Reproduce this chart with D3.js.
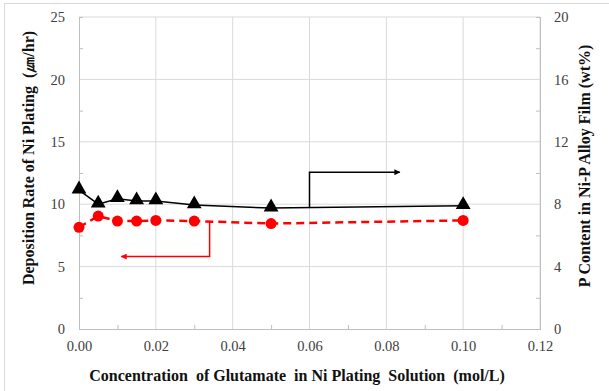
<!DOCTYPE html>
<html>
<head>
<meta charset="utf-8">
<script src="https://cdn.jsdelivr.net/npm/d3@7"></script>
<style>
  body { margin: 0; background: #fff; }
  .tick text { fill: #404040; font-size: 14.5px; }
  .axis-title { font-weight: bold; font-size: 16px; fill: #111; white-space: pre; }
</style>
</head>
<body>
<svg id="chart" width="609" height="391"></svg>
<script>
// glutamate concentration (mol/L)
var concentration = [0, 0.005, 0.01, 0.015, 0.02, 0.03, 0.05, 0.10];
// deposition rate of Ni plating, left axis
var depositionRate = [8.15, 9.05, 8.65, 8.65, 8.7, 8.65, 8.45, 8.7];
// P content in Ni-P film (wt%), right axis
var pContent = [8.9, 8.0, 8.35, 8.2, 8.2, 7.95, 7.75, 7.9];

var xTicks = [0, 0.02, 0.04, 0.06, 0.08, 0.10, 0.12];
var leftTicks = [0, 5, 10, 15, 20, 25];
var rightTicks = [0, 4, 8, 12, 16, 20];

// arrow annotations: [x, y] pairs in data units
var redArrow = [[0.034, 8.65], [0.034, 5.8], [0.011, 5.8]];   // left axis
var blackArrow = [[0.06, 7.8], [0.06, 10.05], [0.0835, 10.05]]; // right axis

var serif = '"Times New Roman", "Liberation Serif", Tinos, "Noto Serif", "DejaVu Serif", serif';

var svg = d3.select('#chart');
var margin = { left: 79, top: 17, right: 69, bottom: 62 };
var width = 609 - margin.left - margin.right;
var height = 391 - margin.top - margin.bottom;

// light frame round the whole figure
svg.append('rect')
  .attr('x', 4.5).attr('y', 3.5)
  .attr('width', 620).attr('height', 400)
  .attr('fill', 'none')
  .attr('stroke', '#d9d9d9');

var g = svg.append('g')
  .attr('transform', 'translate(' + margin.left + ',' + margin.top + ')');

var x = d3.scaleLinear().domain([0, 0.12]).range([0, width]);
var yLeft = d3.scaleLinear().domain([0, 25]).range([height, 0]);
var yRight = d3.scaleLinear().domain([0, 20]).range([height, 0]);

// gridlines
g.append('g').selectAll('line.hg')
  .data(leftTicks.slice(1))
  .enter().append('line')
  .attr('x1', 0).attr('x2', width)
  .attr('y1', function (d) { return yLeft(d); })
  .attr('y2', function (d) { return yLeft(d); })
  .attr('stroke', '#d9d9d9');
g.append('g').selectAll('line.vg')
  .data(xTicks.slice(1))
  .enter().append('line')
  .attr('x1', function (d) { return x(d); })
  .attr('x2', function (d) { return x(d); })
  .attr('y1', 0).attr('y2', height)
  .attr('stroke', '#d9d9d9');

function styleAxis(sel) {
  sel.attr('font-family', serif);
  sel.selectAll('.domain').attr('stroke', '#bfbfbf');
  sel.selectAll('.tick line').attr('stroke', '#bfbfbf');
}

// minor ticks
g.append('g')
  .attr('transform', 'translate(0,' + height + ')')
  .call(d3.axisBottom(x).tickValues(d3.range(0.01, 0.12, 0.02)).tickSize(-4).tickFormat(''))
  .call(styleAxis);
g.append('g')
  .call(d3.axisLeft(yLeft).tickValues(d3.range(2.5, 25, 5)).tickSize(-4).tickFormat(''))
  .call(styleAxis);
g.append('g')
  .attr('transform', 'translate(' + width + ',0)')
  .call(d3.axisRight(yRight).tickValues(d3.range(2, 20, 4)).tickSize(-4).tickFormat(''))
  .call(styleAxis);

// main axes
g.append('g')
  .attr('transform', 'translate(0,' + height + ')')
  .call(d3.axisBottom(x).tickValues(xTicks).tickSize(0).tickPadding(12).tickFormat(d3.format('.2f')))
  .call(styleAxis);
g.append('g')
  .call(d3.axisLeft(yLeft).tickValues(leftTicks).tickSize(0).tickPadding(14))
  .call(styleAxis);
g.append('g')
  .attr('transform', 'translate(' + width + ',0)')
  .call(d3.axisRight(yRight).tickValues(rightTicks).tickSize(0).tickPadding(14))
  .call(styleAxis);

// deposition rate series (red, dashed)
var redLine = d3.line()
  .x(function (d, i) { return x(concentration[i]); })
  .y(function (d) { return yLeft(d); });
g.append('path')
  .datum(depositionRate)
  .attr('d', redLine)
  .attr('fill', 'none')
  .attr('stroke', '#ff0000')
  .attr('stroke-width', 2.5)
  .attr('stroke-dasharray', '8,5');

// P content series (black, solid)
var blackLine = d3.line()
  .x(function (d, i) { return x(concentration[i]); })
  .y(function (d) { return yRight(d); });
g.append('path')
  .datum(pContent)
  .attr('d', blackLine)
  .attr('fill', 'none')
  .attr('stroke', '#000')
  .attr('stroke-width', 1.5);

// arrows
var defs = svg.append('defs');
function addMarker(id, color) {
  defs.append('marker')
    .attr('id', id)
    .attr('viewBox', '0 0 10 10')
    .attr('refX', 9).attr('refY', 5)
    .attr('markerWidth', 10).attr('markerHeight', 6)
    .attr('markerUnits', 'userSpaceOnUse')
    .attr('orient', 'auto')
    .append('path')
    .attr('d', 'M0,0 L10,5 L0,10 Z')
    .attr('fill', color);
}
addMarker('arrow-red', '#ff0000');
addMarker('arrow-black', '#000');

g.append('path')
  .attr('d', d3.line()
    .x(function (d) { return x(d[0]); })
    .y(function (d) { return yLeft(d[1]); })(redArrow))
  .attr('fill', 'none')
  .attr('stroke', '#ff0000')
  .attr('stroke-width', 1.5)
  .attr('marker-end', 'url(#arrow-red)');

g.append('path')
  .attr('d', d3.line()
    .x(function (d) { return x(d[0]); })
    .y(function (d) { return yRight(d[1]); })(blackArrow))
  .attr('fill', 'none')
  .attr('stroke', '#000')
  .attr('stroke-width', 1.5)
  .attr('marker-end', 'url(#arrow-black)');

// markers
g.append('g').selectAll('circle')
  .data(depositionRate)
  .enter().append('circle')
  .attr('cx', function (d, i) { return x(concentration[i]); })
  .attr('cy', function (d) { return yLeft(d); })
  .attr('r', 5.5)
  .attr('fill', '#ff0000');

var tri = d3.symbol().type(d3.symbolTriangle).size(95);
g.append('g').selectAll('path.tri')
  .data(pContent)
  .enter().append('path')
  .attr('d', tri)
  .attr('transform', function (d, i) {
    return 'translate(' + x(concentration[i]) + ',' + (yRight(d) - 1) + ')';
  })
  .attr('fill', '#000');

// axis titles
svg.append('text')
  .attr('class', 'axis-title')
  .attr('font-family', serif)
  .attr('x', 297)
  .attr('y', 381)
  .attr('text-anchor', 'middle')
  .text('Concentration  of Glutamate  in Ni Plating  Solution  (mol/L)');

svg.append('text')
  .attr('class', 'axis-title')
  .attr('font-family', serif)
  .attr('transform', 'translate(34,158) rotate(-90)')
  .attr('text-anchor', 'middle')
  .text('Deposition Rate of Ni Plating  (\u339B/hr)');

svg.append('text')
  .attr('class', 'axis-title')
  .attr('font-family', serif)
  .attr('transform', 'translate(590,166) rotate(-90)')
  .attr('text-anchor', 'middle')
  .text('P Content in Ni-P Alloy Film (wt%)');
</script>
</body>
</html>
